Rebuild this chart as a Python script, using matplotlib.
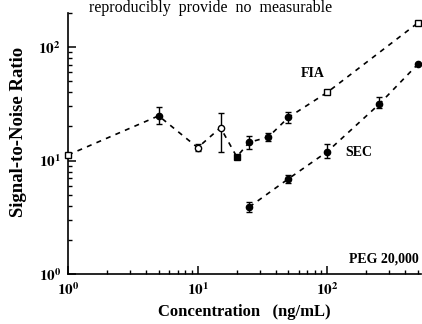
import matplotlib
matplotlib.use("Agg")
import matplotlib.pyplot as plt
import numpy as np

# FIA series
fia_x = [1, 5, 10, 15, 20, 25, 35, 50, 100, 500]
fia_y = [11.2, 24.8, 13.0, 19.5, 10.8, 14.5, 16.1, 24.0, 40.0, 164.0]
fia_lo = [11.2, 20.8, 12.2, 11.9, 10.8, 12.6, 14.8, 21.5, 40.0, 164.0]
fia_hi = [11.2, 29.4, 14.0, 26.4, 10.8, 16.4, 17.6, 27.0, 40.0, 164.0]
fia_marker = ['s_open', 'o', 'o_open', 'o_open', 's', 'o', 'o', 'o', 's_open', 's_open']

# SEC series
sec_x = [25, 50, 100, 250, 500]
sec_y = [3.9, 6.9, 12.0, 31.3, 71.0]
sec_lo = [3.54, 6.3, 10.5, 28.8, 71.0]
sec_hi = [4.33, 7.5, 14.0, 36.3, 71.0]

x_ticks = [1, 10, 100]
x_ticklabels = [r'$\mathbf{10^0}$', r'$\mathbf{10^1}$', r'$\mathbf{10^2}$']
y_ticks = [1, 10, 100]
y_ticklabels = [r'$\mathbf{10^0}$', r'$\mathbf{10^1}$', r'$\mathbf{10^2}$']

plt.rcParams['font.family'] = ['Liberation Serif', 'DejaVu Serif']
plt.rcParams['mathtext.fontset'] = 'stix'

fig = plt.figure(figsize=(4.22, 3.24), dpi=100)
ax = fig.add_axes([68/422, 50/324, 353/422, 261/324])
ax.set_xscale('log')
ax.set_yscale('log')
ax.set_xlim(1, 527)
ax.set_ylim(1, 200)

dash = (0, (3.0, 3.2))
ax.plot(fia_x, fia_y, color='black', lw=1.2, linestyle=dash, zorder=1, clip_on=False)
ax.plot(sec_x, sec_y, color='black', lw=1.2, linestyle=dash, zorder=1, clip_on=False)

def draw(xs, ys, lo, hi, markers):
    for x, y, l, h, m in zip(xs, ys, lo, hi, markers):
        if h - l > 0:
            ax.errorbar([x], [y], yerr=[[y - l], [h - y]], fmt='none', ecolor='black',
                        elinewidth=1.0, capsize=2.5, capthick=1.0, zorder=2)
        shape = m[0]
        face = 'white' if m.endswith('open') else 'black'
        ax.plot([x], [y], marker=shape, ms=4.5, mfc=face, mec='black', mew=1.0,
                linestyle='none', zorder=3, clip_on=False)

draw(fia_x, fia_y, fia_lo, fia_hi, fia_marker)
draw(sec_x, sec_y, sec_lo, sec_hi, ['o'] * len(sec_x))

for s in ['top', 'right']:
    ax.spines[s].set_visible(False)
for s in ['left', 'bottom']:
    ax.spines[s].set_linewidth(1.2)

ax.set_xticks(x_ticks)
ax.set_xticklabels(x_ticklabels, fontsize=11)
ax.set_yticks(y_ticks)
ax.set_yticklabels(y_ticklabels, fontsize=11)
ax.tick_params(which='major', direction='in', length=6, width=1.1, pad=5)
ax.tick_params(which='minor', direction='in', length=3, width=1.0)

ax.set_xlabel('Concentration   (ng/mL)', fontsize=12, fontweight='bold', labelpad=5)
ax.set_ylabel('Signal-to-Noise Ratio', fontsize=13.5, fontweight='bold')
ax.yaxis.set_label_coords(-0.115, 0.545)

ax.text(95, 51, 'FIA', fontsize=10, fontweight='bold', ha='right', va='bottom')
ax.text(138, 11.8, 'SEC', fontsize=10, fontweight='bold', ha='left', va='center')
ax.text(505, 1.2, 'PEG 20,000', fontsize=10, fontweight='bold', ha='right', va='bottom')

fig.text(0.5, 0.999, 'reproducibly  provide  no  measurable', fontsize=11.5, ha='center', va='top')

fig.savefig('out.png', dpi=100)
